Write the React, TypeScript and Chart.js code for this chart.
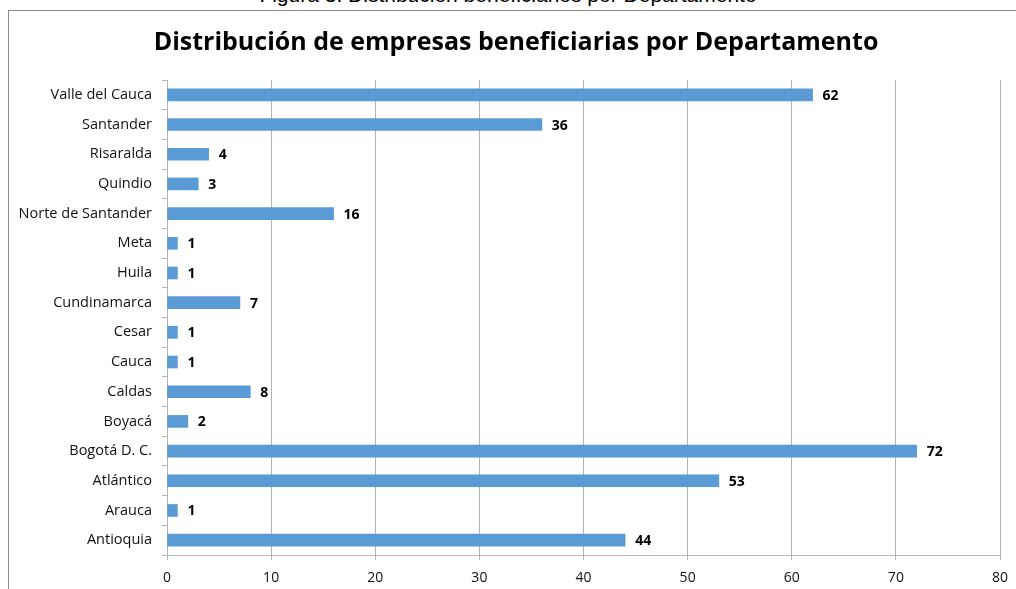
import React, { useEffect, useRef } from "react";
import { Chart, registerables } from "chart.js";

Chart.register(...registerables);

const CAPTION = "Figura 3. Distribución beneficiarios por Departamento";
const TITLE = "Distribución de empresas beneficiarias por Departamento";

const departments = [
  "Valle del Cauca",
  "Santander",
  "Risaralda",
  "Quindio",
  "Norte de Santander",
  "Meta",
  "Huila",
  "Cundinamarca",
  "Cesar",
  "Cauca",
  "Caldas",
  "Boyacá",
  "Bogotá D. C.",
  "Atlántico",
  "Arauca",
  "Antioquia",
];

const companies = [62, 36, 4, 3, 16, 1, 1, 7, 1, 1, 8, 2, 72, 53, 1, 44];

const xTicks = [0, 10, 20, 30, 40, 50, 60, 70, 80];

const FONT = "'Open Sans', 'Noto Sans', sans-serif";

const valueLabels = {
  id: "valueLabels",
  afterDatasetsDraw(chart: any) {
    const ctx = chart.ctx;
    const meta = chart.getDatasetMeta(0);
    const data = chart.data.datasets[0].data;
    ctx.save();
    ctx.font = `bold 14px ${FONT}`;
    ctx.fillStyle = "#000";
    ctx.textAlign = "left";
    ctx.textBaseline = "middle";
    meta.data.forEach((bar: any, i: number) => {
      ctx.fillText(String(data[i]), bar.x + 10, bar.y + 1);
    });
    ctx.restore();
  },
};

const centeredTitle = {
  id: "centeredTitle",
  afterDraw(chart: any) {
    const ctx = chart.ctx;
    ctx.save();
    ctx.font = `bold 25px ${FONT}`;
    ctx.fillStyle = "#000";
    ctx.textAlign = "center";
    ctx.textBaseline = "middle";
    ctx.fillText(TITLE, 516, 43);
    ctx.restore();
  },
};

export default function App() {
  const ref = useRef<HTMLCanvasElement>(null);

  useEffect(() => {
    if (!ref.current) return;
    const chart = new Chart(ref.current, {
      type: "bar",
      data: {
        labels: departments,
        datasets: [
          {
            data: companies,
            backgroundColor: "#5B9BD5",
            borderWidth: 0,
            barThickness: 12,
          },
        ],
      },
      options: {
        indexAxis: "y",
        animation: false,
        responsive: false,
        maintainAspectRatio: false,
        layout: { padding: { top: 80, right: 16, bottom: 0, left: 0 } },
        plugins: {
          legend: { display: false },
          tooltip: { enabled: false },
          title: { display: false },
        },
        scales: {
          x: {
            min: 0,
            max: 80,
            afterBuildTicks: (s: any) => {
              s.ticks = xTicks.map((v) => ({ value: v }));
            },
            afterFit: (s: any) => {
              s.height = 34;
              s.paddingLeft = 0;
              s.paddingRight = 0;
            },
            ticks: {
              color: "#111",
              font: { family: FONT, size: 14 },
              padding: 10,
            },
            grid: {
              color: "#b4b4b4",
              lineWidth: 1,
              drawTicks: true,
              tickLength: 5,
            },
            border: { color: "#b4b4b4" },
          },
          y: {
            afterFit: (s: any) => {
              s.width = 167;
            },
            ticks: {
              color: "#111",
              font: { family: FONT, size: 14.5 },
              padding: 10,
              autoSkip: false,
            },
            grid: {
              offset: true,
              drawOnChartArea: false,
              drawTicks: true,
              tickLength: 5,
              color: "#b4b4b4",
            },
            border: { color: "#b4b4b4" },
          },
        },
      },
      plugins: [valueLabels, centeredTitle],
    });
    return () => chart.destroy();
  }, []);

  return (
    <div
      style={{
        position: "fixed",
        left: 0,
        top: 0,
        width: 1016,
        height: 589,
        overflow: "hidden",
        background: "#fff",
      }}
    >
      <div
        style={{
          position: "absolute",
          left: 0,
          width: 1016,
          top: -17,
          textAlign: "center",
          fontFamily: "'Liberation Sans', Arial, sans-serif",
          fontSize: 21,
          lineHeight: "24px",
          color: "#000",
          whiteSpace: "nowrap",
        }}
      >
        {CAPTION}
      </div>
      <div
        style={{
          position: "absolute",
          left: 8,
          top: 10,
          width: 1100,
          height: 700,
          border: "1px solid #8c8c8c",
        }}
      />
      <canvas
        ref={ref}
        width={1016}
        height={589}
        style={{ position: "absolute", left: 0, top: 0 }}
      />
    </div>
  );
}
